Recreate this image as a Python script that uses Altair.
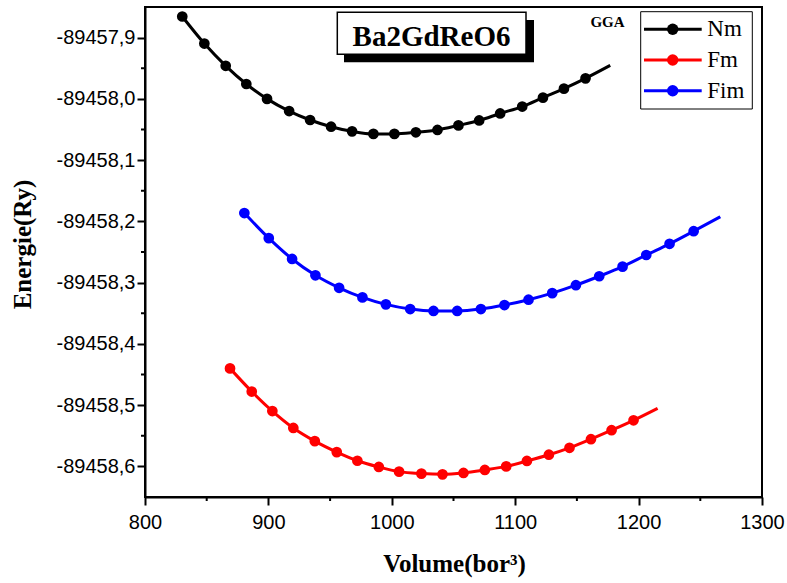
import altair as alt
import pandas as pd

# ---- data ----
SERIES = ["Nm", "Fm", "Fim"]
COLORS = ["#000000", "#ff0000", "#0000ff"]

NM_V = [830.2, 848.1, 865.4, 882.1, 898.9, 916.8, 933.8, 950.8, 967.8, 985.1,
        1002.1, 1019.5, 1037.0, 1054.0, 1070.8, 1087.8, 1105.7, 1122.5, 1139.5, 1157.0]
NM_E = [-89457.8655, -89457.9097, -89457.9460, -89457.9757, -89458.0000,
        -89458.0199, -89458.0345, -89458.0454, -89458.0530, -89458.0572,
        -89458.0572, -89458.0546, -89458.0507, -89458.0433, -89458.0352,
        -89458.0238, -89458.0125, -89457.9979, -89457.9833, -89457.9665]
NM_FIT_END = (1177.0, -89457.9454)

FM_V = [868.9, 886.5, 903.2, 920.2, 937.6, 955.4, 972.1, 989.5, 1005.9, 1024.0,
        1041.1, 1058.1, 1075.4, 1092.7, 1109.5, 1127.3, 1144.0, 1161.4, 1178.1, 1195.9]
FM_E = [-89458.4400, -89458.4778, -89458.5097, -89458.5373, -89458.5588,
        -89458.5767, -89458.5908, -89458.6010, -89458.6086, -89458.6118,
        -89458.6130, -89458.6107, -89458.6058, -89458.6000, -89458.5912,
        -89458.5810, -89458.5697, -89458.5556, -89458.5410, -89458.5248]
FM_FIT_END = (1215.4, -89458.5053)

FIM_V = [880.5, 900.3, 919.2, 938.1, 957.3, 976.2, 995.2, 1014.9, 1033.8, 1053.0,
         1072.2, 1091.3, 1110.8, 1130.0, 1149.2, 1168.1, 1187.0, 1206.2, 1225.1, 1244.6]
FIM_E = [-89458.1864, -89458.2274, -89458.2614, -89458.2880, -89458.3084,
         -89458.3241, -89458.3355, -89458.3431, -89458.3463, -89458.3463,
         -89458.3431, -89458.3366, -89458.3279, -89458.3172, -89458.3042,
         -89458.2896, -89458.2739, -89458.2549, -89458.2366, -89458.2160]
FIM_FIT_END = (1266.2, -89458.1924)

X_TICKS = [800, 900, 1000, 1100, 1200, 1300]
X_MINOR = [850, 950, 1050, 1150, 1250]
Y_TICKS = [-89458.6, -89458.5, -89458.4, -89458.3, -89458.2, -89458.1, -89458.0, -89457.9]
Y_MINOR = [-89458.55, -89458.45, -89458.35, -89458.25, -89458.15, -89458.05, -89457.95]
X_DOMAIN = [800, 1300]
Y_DOMAIN = [-89458.65, -89457.85]

TITLE_TEXT = "Ba2GdReO6"
METHOD_TEXT = "GGA"
X_TITLE = "Volume(bor³)"
Y_TITLE = "Energie(Ry)"

# ---- tables ----
pts_rows, line_rows = [], []
for name, vs, es, end in [("Nm", NM_V, NM_E, NM_FIT_END),
                          ("Fm", FM_V, FM_E, FM_FIT_END),
                          ("Fim", FIM_V, FIM_E, FIM_FIT_END)]:
    for i, (v, e) in enumerate(zip(vs, es)):
        pts_rows.append({"Series": name, "V": v, "E": e})
        line_rows.append({"Series": name, "V": v, "E": e, "o": i})
    line_rows.append({"Series": name, "V": end[0], "E": end[1], "o": len(vs)})
pts = pd.DataFrame(pts_rows)
lines = pd.DataFrame(line_rows)
leg = pd.DataFrame({"Series": SERIES})

W, H = 617, 490
SERIF = "Liberation Serif"
SANS = "Liberation Sans"

xscale = alt.Scale(domain=X_DOMAIN, nice=False, zero=False)
yscale = alt.Scale(domain=Y_DOMAIN, nice=False, zero=False)
cscale = alt.Scale(domain=SERIES, range=COLORS)

ylabel_expr = "replace(replace(format(datum.value, '.1f'), '.', ','), '\u2212', '-')"

x_enc = alt.X("V:Q", scale=xscale, axis=alt.Axis(
    values=X_TICKS, format="d", title=X_TITLE, grid=False,
    labelFont=SANS, labelFontSize=20, labelColor="black", labelPadding=7,
    labelFlush=False, tickSize=8, tickWidth=2, tickColor="black",
    domainWidth=2, domainColor="black",
    titleFont=SERIF, titleFontSize=25, titleFontWeight="bold", titleColor="black",
    titleX=309, titleY=66, titleBaseline="middle", titleAlign="center"))
y_enc = alt.Y("E:Q", scale=yscale, axis=alt.Axis(
    values=Y_TICKS, labelExpr=ylabel_expr, title=Y_TITLE, grid=False,
    labelFont=SANS, labelFontSize=20, labelColor="black", labelPadding=2,
    tickSize=8, tickWidth=2, tickColor="black",
    domainWidth=2, domainColor="black",
    titleFont=SERIF, titleFontSize=25, titleFontWeight="bold", titleColor="black",
    titleX=-123, titleY=237, titleBaseline="middle", titleAlign="center", titleAngle=270))

line_layer = alt.Chart(lines).mark_line(strokeWidth=3, interpolate="monotone").encode(
    x=x_enc, y=y_enc,
    color=alt.Color("Series:N", scale=cscale, legend=None),
    detail="Series:N", order="o:Q")

point_layer = alt.Chart(pts).mark_point(filled=True, size=115, opacity=1).encode(
    x="V:Q", y="E:Q",
    color=alt.Color("Series:N", scale=cscale, legend=None))

ymin = alt.Chart(pd.DataFrame({"E": Y_MINOR})).mark_rule(color="black", strokeWidth=2).encode(
    y="E:Q", x=alt.value(-4), x2=alt.value(0))
xmin = alt.Chart(pd.DataFrame({"V": X_MINOR})).mark_rule(color="black", strokeWidth=2).encode(
    x="V:Q", y=alt.value(H), y2=alt.value(H + 4))

# ---- title box + method tag ----
one = pd.DataFrame({"t": [TITLE_TEXT]})
shadow = alt.Chart(one).mark_rect(color="black").encode(
    x=alt.value(199), x2=alt.value(389), y=alt.value(13), y2=alt.value(55.3))
box = alt.Chart(one).mark_rect(fill="white", stroke="black", strokeWidth=1.5).encode(
    x=alt.value(192.3), x2=alt.value(381), y=alt.value(5.3), y2=alt.value(47.3))
title_txt = alt.Chart(one).mark_text(font=SERIF, fontSize=29, fontWeight="bold",
                                     align="center", baseline="alphabetic", color="black").encode(
    x=alt.value(286.5), y=alt.value(38.9), text="t:N")
gga = alt.Chart(pd.DataFrame({"t": [METHOD_TEXT]})).mark_text(
    font=SERIF, fontSize=15, fontWeight="bold", align="center", baseline="alphabetic",
    color="black").encode(x=alt.value(462.5), y=alt.value(20.3), text="t:N")

# ---- legend (drawn as a small table of the series) ----
series_js = "[" + ",".join("'" + s + "'" for s in SERIES) + "]"
leg_base = alt.Chart(leg).transform_calculate(
    ly="22.3 + 30.7 * indexof(" + series_js + ", datum.Series)")
leg_box = alt.Chart(pd.DataFrame({"t": ["legend"]})).mark_rect(
    fill="white", stroke="black", strokeWidth=1).encode(
    x=alt.value(495.7), x2=alt.value(607.3), y=alt.value(4.7), y2=alt.value(102))
leg_line = leg_base.mark_rule(strokeWidth=3).encode(
    x=alt.value(499), x2=alt.value(556.7), y=alt.Y("ly:Q", scale=None),
    color=alt.Color("Series:N", scale=cscale, legend=None))
leg_pt = leg_base.mark_point(filled=True, size=130, opacity=1).encode(
    x=alt.value(527.7), y=alt.Y("ly:Q", scale=None),
    color=alt.Color("Series:N", scale=cscale, legend=None))
leg_txt = leg_base.mark_text(font=SERIF, fontSize=23, align="left", baseline="middle",
                             color="black").encode(
    x=alt.value(562.3), y=alt.Y("ly:Q", scale=None), text="Series:N")

chart = alt.layer(line_layer, point_layer, ymin, xmin, shadow, box, title_txt, gga,
                  leg_box, leg_line, leg_pt, leg_txt).properties(
    width=W, height=H,
    autosize=alt.AutoSizeParams(type="none"),
    padding={"left": 145, "top": 7, "right": 25, "bottom": 86},
    background="white",
).configure_view(stroke="black", strokeWidth=2)

chart.save("out.html", embed_options={"renderer": "svg", "actions": False})
